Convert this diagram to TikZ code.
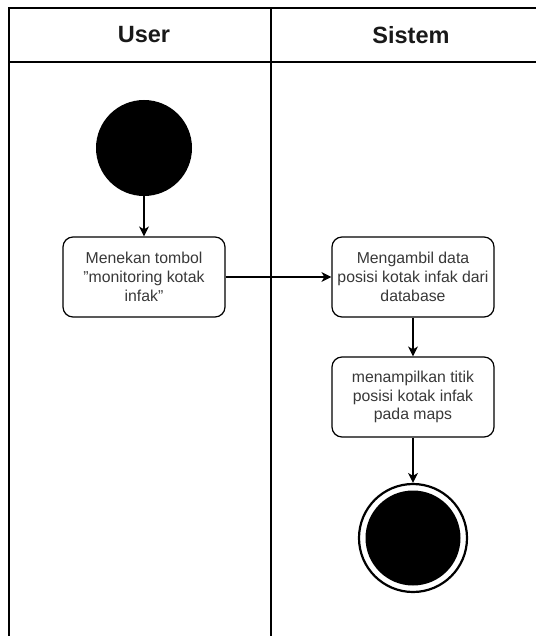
\documentclass[tikz,border=0pt]{standalone}
\usepackage{fontspec}
\setmainfont{Liberation Sans}
\usetikzlibrary{arrows.meta}
\begin{document}
\begin{tikzpicture}[x=1pt,y=-1pt,
  lane/.style={line width=1.3pt, draw=black},
  actbox/.style={draw=black, line width=1.2pt, rounded corners=10pt, minimum width=162pt, minimum height=80pt, align=center, font=\fontsize{15.8}{18.8}\selectfont, text=black!78, inner sep=0pt},
  flow/.style={line width=1.3pt, -{Stealth[length=10pt,width=10pt,inset=3pt]}},
  hdr/.style={font=\fontsize{23.5}{26}\selectfont\bfseries, text=black!90}
]
\useasboundingbox (0,0) rectangle (536,636);
% swimlanes
\draw[lane] (9,636) -- (9,8) -- (536,8);
\draw[lane] (9,62) -- (536,62);
\draw[lane] (271,8) -- (271,636);
\node[hdr] (huser) at (144,35) {User};
\node[hdr] (hsys) at (411,35) {Sistem};
% start
\node[circle, fill=black, minimum size=96pt, inner sep=0pt] (start) at (144,148) {};
% boxes
\node[actbox] (a1) at (144,277) {Menekan tombol\\\symbol{34}monitoring kotak\\infak\symbol{34}};
\node[actbox] (a2) at (413,277) {Mengambil data\\posisi kotak infak dari\\database};
\node[actbox] (a3) at (413,397) {menampilkan titik\\posisi kotak infak\\pada maps};
% end
\node[circle, draw=black, line width=2.2pt, minimum size=108pt, inner sep=0pt] (stop) at (413,538) {};
\node[circle, fill=black, minimum size=95pt, inner sep=0pt] (stopin) at (413,538) {};
% flows
\draw[flow] (start) -- (a1);
\draw[flow] (a1) -- (a2);
\draw[flow] (a2) -- (a3);
\draw[flow] (a3) -- (stop);
\end{tikzpicture}
\end{document}
